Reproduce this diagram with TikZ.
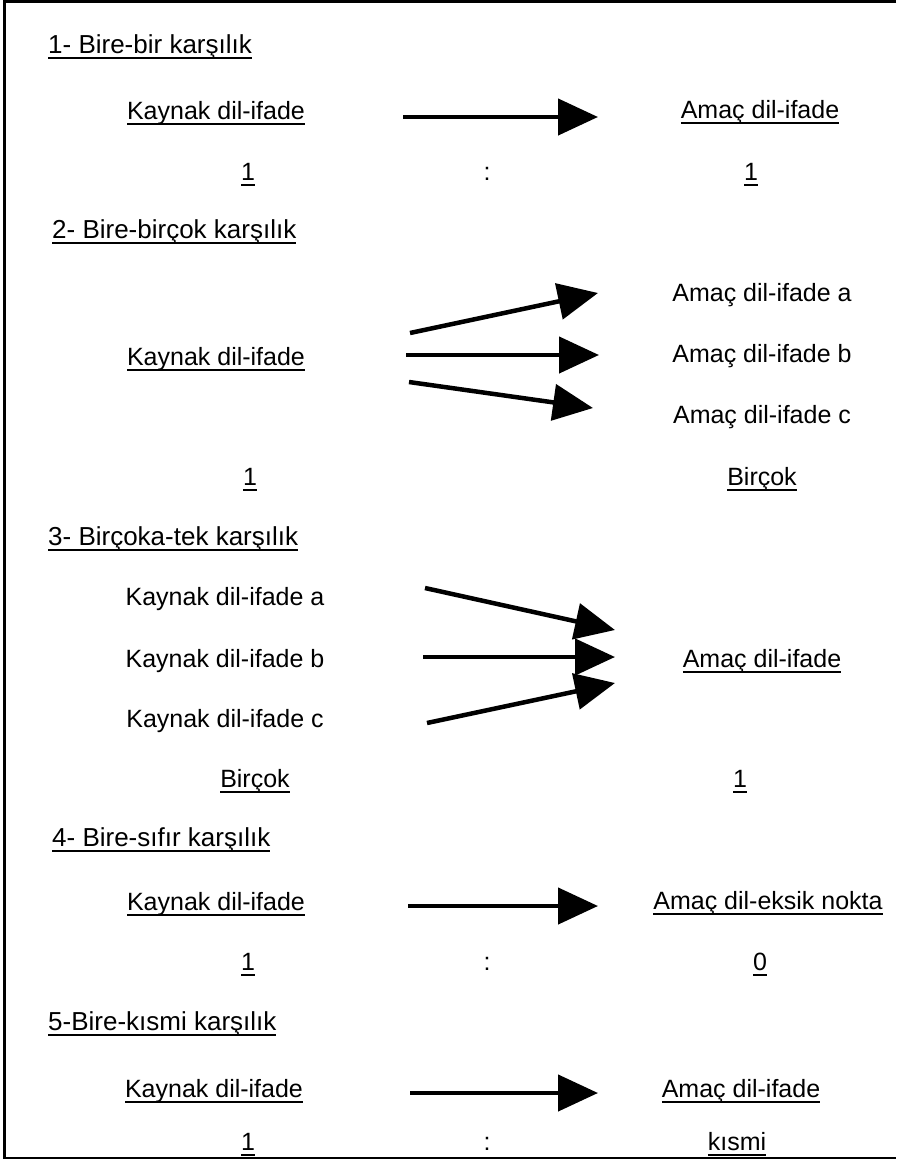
\documentclass[tikz,border=0pt]{standalone}
\usepackage{fontspec}
\setmainfont{Liberation Sans}
\usetikzlibrary{arrows.meta}
\newcommand\ulx[1]{\setbox0\hbox{#1}\rlap{\rule[-5.5pt]{\wd0}{1.6pt}}\box0}
\begin{document}
\begin{tikzpicture}[x=1pt,y=-1pt,
  txt/.style={inner sep=0pt, anchor=base, font=\fontsize{25}{30}\selectfont},
  head/.style={inner sep=0pt, anchor=base west, font=\fontsize{26}{30}\selectfont},
  arr/.style={line width=4.5pt, -{Triangle[length=40pt,width=36pt]}},
  frame/.style={line width=2.5pt}]
\useasboundingbox (0,0) rectangle (898,1160);
% frame (no right side)
\coordinate (ftr) at (896,1.5);
\coordinate (ftl) at (4.5,1.5);
\coordinate (fbl) at (4.5,1158);
\coordinate (fbr) at (896,1158);
\draw[frame] (ftr) -- (ftl) -- (fbl) -- (fbr);

% ---- 1
\node[head] (h1) at (48,53) {\ulx{1- Bire-bir karşılık}};
\node[txt] (k1) at (216,119) {\ulx{Kaynak dil-ifade}};
\node[txt] (a1) at (760,118) {\ulx{Amaç dil-ifade}};
\node[txt] (n1l) at (248,180) {\ulx{1}};
\node[txt] (c1) at (487,180) {:};
\node[txt] (n1r) at (751,180) {\ulx{1}};
\coordinate (s1) at (403,117);
\coordinate (e1) at (598,117);
\draw[arr] (s1) -- (e1);

% ---- 2
\node[head] (h2) at (52,238) {\ulx{2- Bire-birçok karşılık}};
\node[txt] (k2) at (216,365) {\ulx{Kaynak dil-ifade}};
\node[txt] (a2a) at (762,301) {Amaç dil-ifade a};
\node[txt] (a2b) at (762,362) {Amaç dil-ifade b};
\node[txt] (a2c) at (762,423) {Amaç dil-ifade c};
\node[txt] (n2l) at (250,485) {\ulx{1}};
\node[txt] (n2r) at (762,485) {\ulx{Birçok}};
\coordinate (s2a) at (410,333);
\coordinate (e2a) at (598,293);
\coordinate (s2b) at (406,355);
\coordinate (e2b) at (599,355);
\coordinate (s2c) at (409,382);
\coordinate (e2c) at (593,408);
\draw[arr] (s2a) -- (e2a);
\draw[arr] (s2b) -- (e2b);
\draw[arr] (s2c) -- (e2c);

% ---- 3
\node[head] (h3) at (48,545) {\ulx{3- Birçoka-tek karşılık}};
\node[txt] (k3a) at (225,605) {Kaynak dil-ifade a};
\node[txt] (k3b) at (225,667) {Kaynak dil-ifade b};
\node[txt] (k3c) at (225,727) {Kaynak dil-ifade c};
\node[txt] (a3) at (762,667) {\ulx{Amaç dil-ifade}};
\node[txt] (n3l) at (255,787) {\ulx{Birçok}};
\node[txt] (n3r) at (740,787) {\ulx{1}};
\coordinate (s3a) at (425,588);
\coordinate (e3a) at (615,630);
\coordinate (s3b) at (423,657);
\coordinate (e3b) at (615,657);
\coordinate (s3c) at (427,723);
\coordinate (e3c) at (615,683);
\draw[arr] (s3a) -- (e3a);
\draw[arr] (s3b) -- (e3b);
\draw[arr] (s3c) -- (e3c);

% ---- 4
\node[head] (h4) at (52,846) {\ulx{4- Bire-sıfır karşılık}};
\node[txt] (k4) at (216,910) {\ulx{Kaynak dil-ifade}};
\node[txt] (a4) at (768,909) {\ulx{Amaç dil-eksik nokta}};
\node[txt] (n4l) at (248,970) {\ulx{1}};
\node[txt] (c4) at (487,970) {:};
\node[txt] (n4r) at (760,970) {\ulx{0}};
\coordinate (s4) at (408,906);
\coordinate (e4) at (598,906);
\draw[arr] (s4) -- (e4);

% ---- 5
\node[head] (h5) at (48,1030) {\ulx{5-Bire-kısmi karşılık}};
\node[txt] (k5) at (214,1097) {\ulx{Kaynak dil-ifade}};
\node[txt] (a5) at (741,1097) {\ulx{Amaç dil-ifade}};
\node[txt] (n5l) at (248,1150) {\ulx{1}};
\node[txt] (c5) at (487,1150) {:};
\node[txt] (n5r) at (737,1150) {\ulx{kısmi}};
\coordinate (s5) at (410,1093);
\coordinate (e5) at (598,1093);
\draw[arr] (s5) -- (e5);
\end{tikzpicture}
\end{document}
